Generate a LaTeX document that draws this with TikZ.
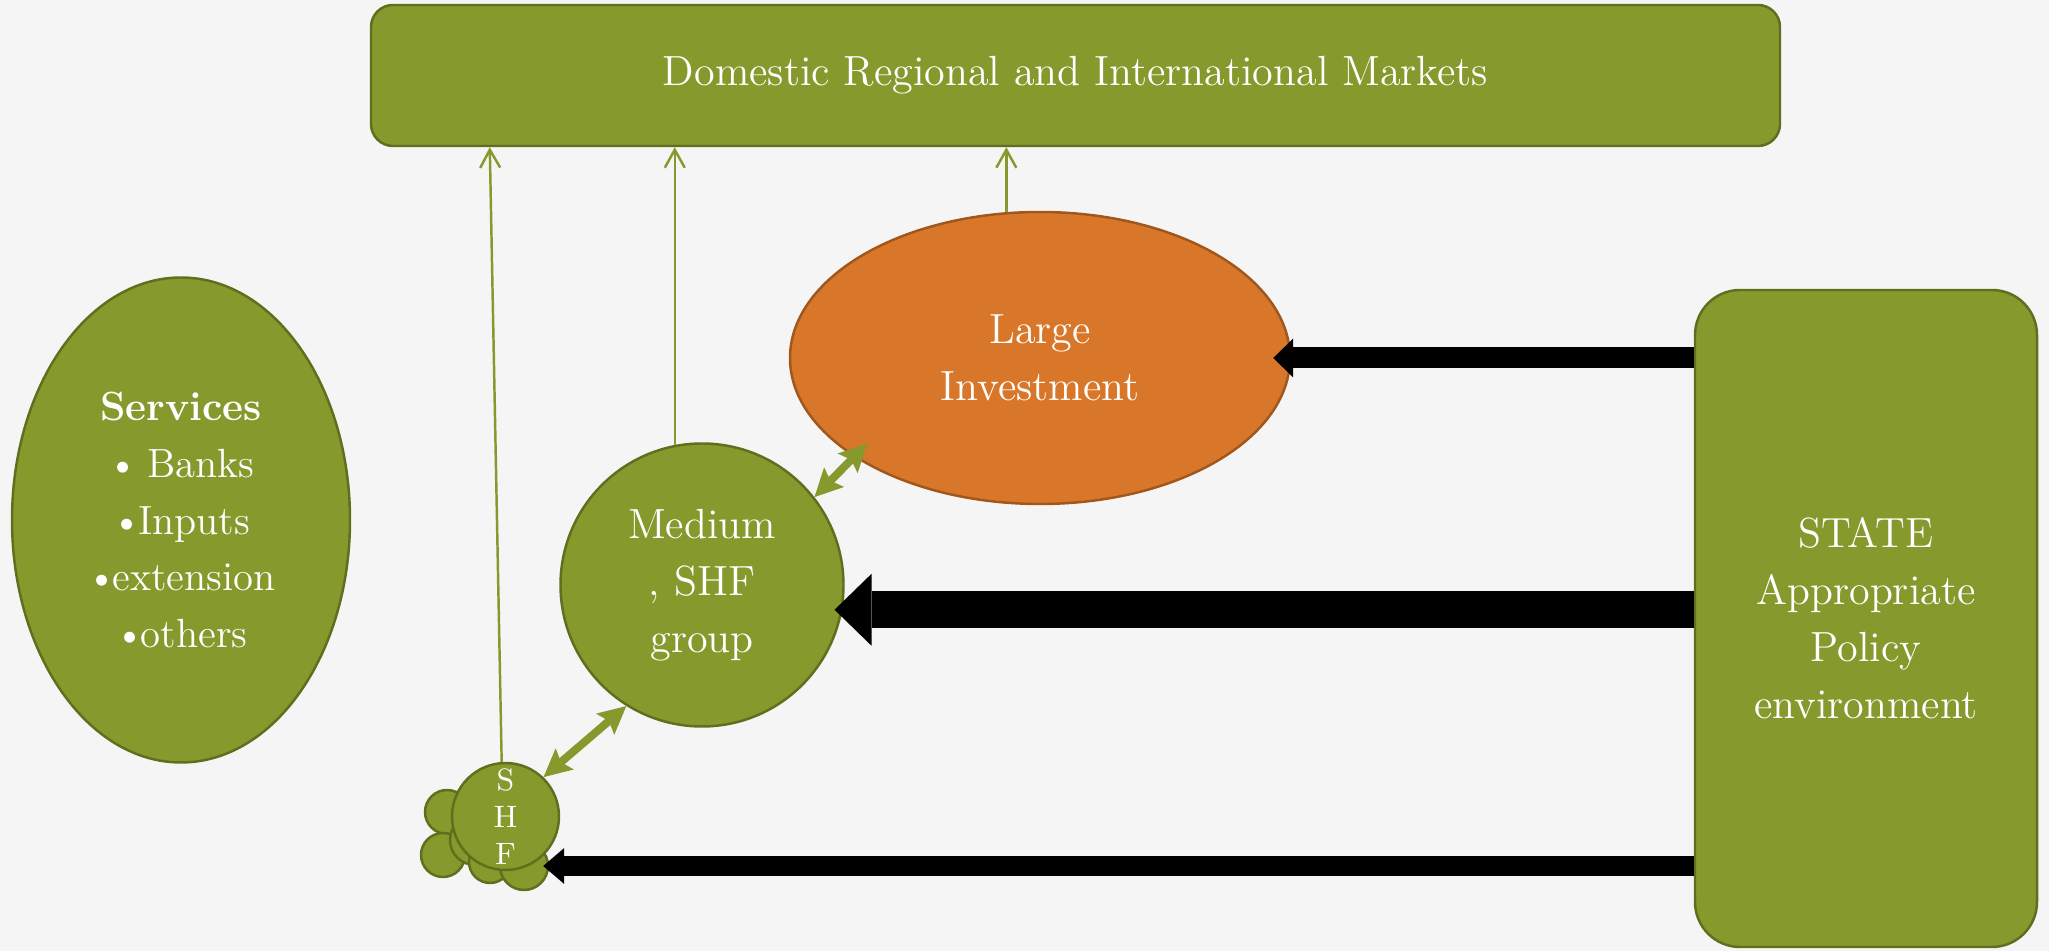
\documentclass[tikz,border=0pt]{standalone}
\usetikzlibrary{shapes.geometric,arrows.meta}

\definecolor{mOlive}{HTML}{85992C}
\definecolor{mOliveDark}{HTML}{5E6F1E}
\definecolor{mOrange}{HTML}{D87729}
\definecolor{mOrangeDark}{HTML}{A1561B}
\definecolor{mPaper}{HTML}{F5F5F5}

\newcommand{\tightbullet}{\textbullet\kern-0.12em}

\tikzset{
  greenshape/.style={fill=mOlive, draw=mOliveDark, line width=0.7pt, text=white,
    align=center, inner sep=0pt, font=\fontsize{12}{16.2}\selectfont},
  bud/.style={circle, fill=mOlive, draw=mOliveDark, line width=0.7pt, inner sep=0pt},
  tomarket/.style={mOlive, line width=0.7pt, -{Straight Barb[length=0.18cm,width=0.2cm]}},
  link/.style={mOlive, line width=0.08cm,
    {Stealth[length=0.28cm,width=0.28cm,inset=0.05cm,line width=0pt]}-{Stealth[length=0.28cm,width=0.28cm,inset=0.05cm,line width=0pt]}},
  policy/.style n args={3}{black, line width=#1, -{Triangle[length=#2,width=#3,line width=0pt]}}
}

\begin{document}
\begin{tikzpicture}

\useasboundingbox (0,0) rectangle (20.49,-9.51);
\fill[mPaper] (0,0) rectangle (20.49,-9.51);

% markets along the top
\node[greenshape, rectangle, rounded corners=0.22cm, minimum width=14.09cm, minimum height=1.41cm] (markets) at (10.755,-0.755) {Domestic Regional and International Markets};

% services on the left
\node[greenshape, ellipse, minimum width=3.38cm, minimum height=4.85cm, font=\fontsize{11.6}{16.2}\selectfont] (services) at (1.81,-5.20) {\textbf{Services}\\\tightbullet\ Banks\\\tightbullet Inputs\\\tightbullet extension\\\tightbullet others};

% the three farm groups
\node[greenshape, ellipse, fill=mOrange, draw=mOrangeDark, minimum width=5cm, minimum height=2.92cm] (large) at (10.40,-3.58) {Large\\Investment};

\node[greenshape, circle, minimum size=2.83cm] (medium) at (7.02,-5.85) {Medium\\, SHF\\group};

\node[bud, minimum size=0.44cm] (bud1) at (4.47,-8.12) {};
\node[bud, minimum size=0.44cm] (bud2) at (4.43,-8.55) {};
\node[bud, minimum size=0.50cm] (bud3) at (4.75,-8.40) {};
\node[bud, minimum size=0.42cm] (bud4) at (4.90,-8.62) {};
\node[bud, minimum size=0.48cm] (bud5) at (5.24,-8.66) {};
\node[greenshape, circle, minimum size=1.07cm, font=\fontsize{8.8}{10.6}\selectfont] (shf) at (5.055,-8.165) {S\\H\\F};

% state box on the right
\node[greenshape, rectangle, rounded corners=0.45cm, minimum width=3.42cm, minimum height=6.57cm] (state) at (18.66,-6.185) {STATE\\Appropriate\\Policy\\environment};

% up to the markets
\draw[tomarket] (shf.94) -- ([xshift=1.2cm]markets.south west);
\draw[tomarket] (medium.101) -- (medium.101 |- markets.south);
\draw[tomarket] (large.103) -- (large.103 |- markets.south);

% links between the groups
\draw[link, shorten >=-0.19cm] (medium.38) -- (large.208);
\draw[link] (shf.46) -- (medium.238);

% policy arrows from the state
\draw[policy={0.21cm}{0.2cm}{0.39cm}] (state.west |- large.east) -- ([xshift=-0.18cm]large.east);
\draw[policy={0.37cm}{0.37cm}{0.72cm}] (state.west |- medium.-10) -- ([xshift=-0.08cm]medium.-10);
\draw[policy={0.2cm}{0.21cm}{0.36cm}] (state.west |- bud5.east) -- ([xshift=-0.06cm]bud5.east);

\end{tikzpicture}
\end{document}
